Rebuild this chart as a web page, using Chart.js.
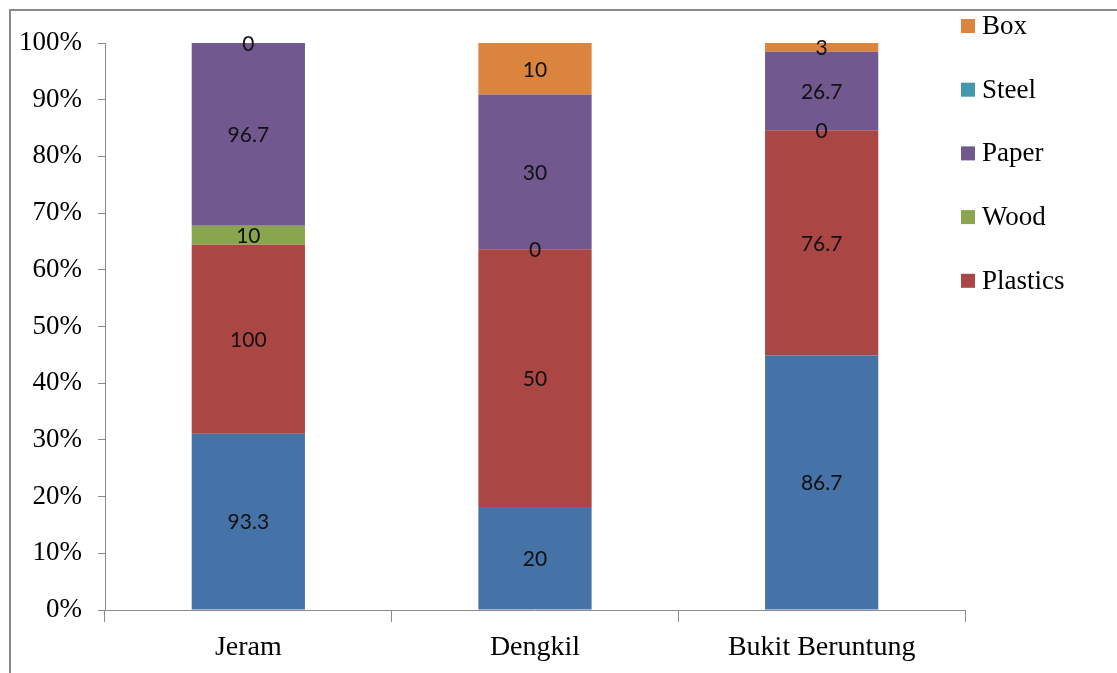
<!DOCTYPE html>
<html>
<head>
<meta charset="utf-8">
<script src="https://cdn.jsdelivr.net/npm/chart.js@4"></script>
<style>
  html, body { margin: 0; padding: 0; background: #fff; }
  #wrap { position: relative; width: 1117px; height: 673px; overflow: hidden; }
  #frame { position: absolute; left: 9px; top: 9px; width: 1200px; height: 700px;
           border-top: 2px solid #8a8a8a; border-left: 2px solid #8a8a8a; box-sizing: border-box; }
  canvas { position: absolute; left: 0; top: 0; }
</style>
</head>
<body>
<div id="wrap">
  <div id="frame"></div>
  <canvas id="c" width="1117" height="673"></canvas>
</div>
<script>
// ---- data ----
const categories = ['Jeram', 'Dengkil', 'Bukit Beruntung'];
const seriesNames = ['Series1', 'Plastics', 'Wood', 'Paper', 'Steel', 'Box'];
const series1  = [93.3, 20, 86.7];
const plastics = [100, 50, 76.7];
const wood     = [10, 0, 0];
const paper    = [96.7, 30, 26.7];
const steel    = [null, null, null];
const box      = [0, 10, 3];
const yTickValues = [0, 10, 20, 30, 40, 50, 60, 70, 80, 90, 100];

const rawSeries = [series1, plastics, wood, paper, steel, box];
const colors = ['#4572A7', '#AA4643', '#89A54E', '#71588F', '#4198AF', '#DB843D'];
const legendOrder = [5, 4, 3, 2, 1];

// totals for 100% stacking
const totals = categories.map((_, j) => rawSeries.reduce((s, arr) => s + (arr[j] == null ? 0 : arr[j]), 0));
const datasets = rawSeries.map((arr, i) => ({
  label: seriesNames[i],
  data: arr.map((v, j) => v == null ? null : v / totals[j] * 100),
  backgroundColor: colors[i],
  borderWidth: 0,
  categoryPercentage: 1.0,
  barPercentage: 0.395
}));

const valueLabels = {
  id: 'valueLabels',
  afterDatasetsDraw(chart) {
    const ctx = chart.ctx;
    ctx.save();
    ctx.font = '21px Lato, "Open Sans", sans-serif';
    ctx.fillStyle = '#111';
    ctx.textAlign = 'center';
    ctx.textBaseline = 'middle';
    chart.data.datasets.forEach((ds, i) => {
      const meta = chart.getDatasetMeta(i);
      meta.data.forEach((bar, j) => {
        const raw = rawSeries[i][j];
        if (raw == null) return;
        const y = (bar.y + bar.base) / 2;
        ctx.fillText(String(raw), bar.x, y + 1);
      });
    });
    ctx.restore();
  }
};

const sideLegend = {
  id: 'sideLegend',
  afterDraw(chart) {
    const ctx = chart.ctx;
    ctx.save();
    ctx.font = '27px "Liberation Serif", "Times New Roman", serif';
    ctx.textBaseline = 'middle';
    ctx.textAlign = 'left';
    legendOrder.forEach((idx, k) => {
      const cy = 26 + k * 63.7;
      ctx.fillStyle = colors[idx];
      ctx.fillRect(961, cy - 7, 14, 14);
      ctx.fillStyle = '#000';
      ctx.fillText(seriesNames[idx], 982, cy + 1);
    });
    ctx.restore();
  }
};

new Chart(document.getElementById('c'), {
  type: 'bar',
  data: { labels: categories, datasets },
  options: {
    responsive: false,
    animation: false,
    devicePixelRatio: 1,
    layout: { padding: { top: 43, right: 152, left: 0, bottom: 0 } },
    plugins: { legend: { display: false }, tooltip: { enabled: false } },
    scales: {
      x: {
        stacked: true,
        grid: { display: true, drawOnChartArea: false, drawTicks: true, tickLength: 12, color: '#8a8a8a', offset: true },
        border: { display: true, color: '#8a8a8a', width: 1 },
        ticks: { color: '#000', font: { family: '"Liberation Serif", "Times New Roman", serif', size: 28 }, padding: 9 },
        afterFit(s) { s.height = 63; }
      },
      y: {
        stacked: true,
        min: 0, max: 100,
        afterBuildTicks(s) { s.ticks = yTickValues.map(v => ({ value: v })); },
        grid: { display: true, drawOnChartArea: false, drawTicks: true, tickLength: 7, color: '#8a8a8a' },
        border: { display: true, color: '#8a8a8a', width: 1 },
        ticks: { color: '#000', font: { family: '"Liberation Serif", "Times New Roman", serif', size: 27 }, padding: 16,
                 callback: v => v + '%' },
        afterFit(s) { s.width = 105; }
      }
    }
  },
  plugins: [valueLabels, sideLegend]
});
</script>
</body>
</html>
